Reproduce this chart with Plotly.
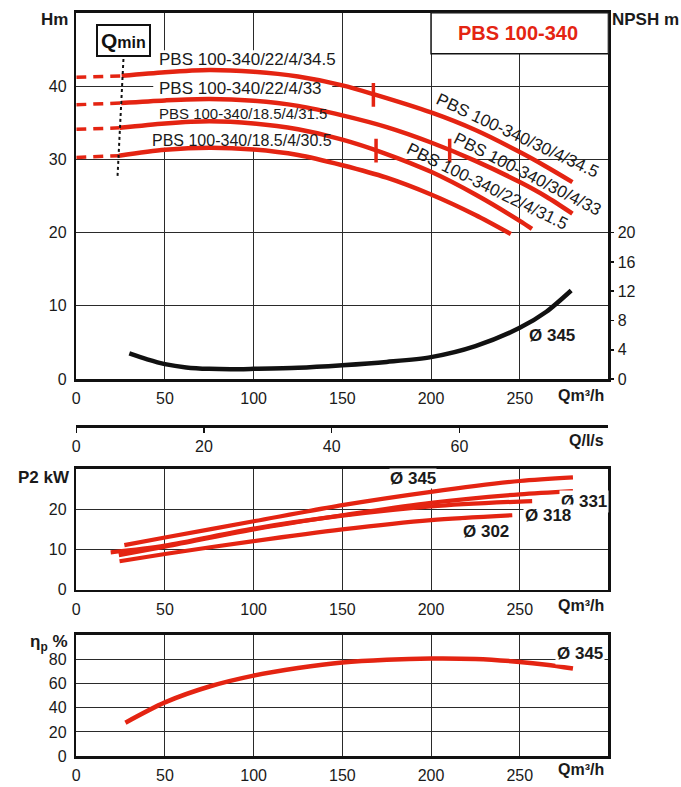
import plotly.graph_objects as go

# ---------------- data ----------------
q_ticks = [0, 50, 100, 150, 200, 250]
h_ticks = [0, 10, 20, 30, 40]
npsh_ticks = [0, 4, 8, 12, 16, 20]
ls_ticks = [0, 20, 40, 60]
p2_ticks = [0, 10, 20]
eta_ticks = [0, 20, 40, 60, 80]

head_names_left = ["PBS 100-340/22/4/34.5", "PBS 100-340/22/4/33",
                   "PBS 100-340/18.5/4/31.5", "PBS 100-340/18.5/4/30.5"]
head_names_right = ["PBS 100-340/30/4/34.5", "PBS 100-340/30/4/33",
                    "PBS 100-340/22/4/31.5"]
title_text = "PBS 100-340"

# head curves: dashed part (below Qmin) and solid part
h1_dash_q = [0, 25.6]
h1_dash_h = [41.2, 41.4]
h1_q = [25.6, 50, 75, 100, 125, 150, 167.5, 200, 225, 250, 265, 279.7]
h1_h = [41.4, 41.9, 42.2, 41.95, 41.3, 40.1, 38.9, 36.4, 34.0, 31.0, 29.0, 26.9]

h2_dash_q = [0, 25.3]
h2_dash_h = [37.45, 37.7]
h2_q = [25.3, 50, 75, 100, 125, 150, 175, 200, 225, 250, 265, 279.7]
h2_h = [37.7, 38.05, 38.25, 38.0, 37.3, 36.0, 34.4, 32.3, 29.8, 26.9, 24.9, 22.6]

h3_dash_q = [0, 24.5]
h3_dash_h = [34.1, 34.3]
h3_q = [24.5, 50, 75, 100, 125, 150, 173, 200, 225, 250, 256.9]
h3_h = [34.3, 34.9, 35.2, 34.9, 34.1, 32.7, 30.9, 28.3, 25.2, 21.6, 20.5]

h4_dash_q = [0, 24.0]
h4_dash_h = [30.25, 30.5]
h4_q = [24.0, 50, 75, 100, 125, 150, 175, 200, 225, 245]
h4_h = [30.5, 31.3, 31.6, 31.35, 30.6, 29.2, 27.5, 25.2, 22.4, 19.8]

# duty-point tick marks on the head curves
tick_q = [167.5, 210.5, 169.0]
tick_h = [38.8, 31.2, 31.2]

# Qmin dotted line
qmin_q = [26.6, 23.2]
qmin_h = [43.7, 27.4]

# NPSH curve (D 345)
npsh_q = [29.9, 40, 50, 62, 75, 87, 100, 125, 150, 175, 200, 225, 250, 265, 279]
npsh_v = [3.5, 2.7, 2.05, 1.6, 1.4, 1.35, 1.4, 1.55, 1.9, 2.35, 3.0, 4.5, 7.0, 9.2, 12.1]

# P2 power curves
p345_q = [27.1, 50, 100, 150, 200, 250, 280]
p345_p = [11.1, 13.0, 17.0, 21.0, 24.3, 27.0, 27.9]
p331_q = [24, 50, 100, 150, 200, 250, 280]
p331_p = [8.6, 10.7, 15.0, 18.5, 21.6, 23.7, 24.5]
p318_q = [19.4, 50, 100, 150, 200, 250, 257]
p318_p = [9.3, 11.0, 15.2, 18.4, 20.7, 21.9, 22.0]
p302_q = [24.4, 50, 100, 150, 200, 245.8]
p302_p = [7.1, 8.9, 12.1, 15.0, 17.3, 18.5]
p_labels = ["Ø 345", "Ø 331", "Ø 318", "Ø 302"]

# efficiency
eta_q = [27.7, 50, 76, 100, 125, 150, 175, 200, 225, 250, 265, 280]
eta_v = [27.7, 44.4, 57.9, 66.5, 72.7, 77.3, 79.6, 80.6, 80.2, 77.8, 75.5, 72.4]

# ---------------- layout helpers ----------------
W, H = 681, 787
RED = "#e42412"
FONT = "Liberation Sans, Arial, sans-serif"
TXT = "#1a1a1a"


def fx(p):
    return p / W


def fy(p):
    return 1 - p / H


XL, XR = 72.7, 608.0
xdom = [fx(XL), fx(XR)]

fig = go.Figure()


def line(x, y, xa, ya, color=RED, width=4.5, dash=None):
    fig.add_trace(go.Scatter(
        x=x, y=y, mode="lines", xaxis=xa, yaxis=ya, hoverinfo="skip",
        line=dict(color=color, width=width, shape="spline", smoothing=0.8,
                  dash=dash),
        showlegend=False))


# head curves
for dq, dh, q, h in [(h1_dash_q, h1_dash_h, h1_q, h1_h),
                     (h2_dash_q, h2_dash_h, h2_q, h2_h),
                     (h3_dash_q, h3_dash_h, h3_q, h3_h),
                     (h4_dash_q, h4_dash_h, h4_q, h4_h)]:
    line(dq, dh, "x", "y", width=3.5, dash="10px,7px")
    line(q, h, "x", "y")

fig.add_trace(go.Scatter(
    x=tick_q, y=tick_h, mode="markers", xaxis="x", yaxis="y", hoverinfo="skip",
    marker=dict(symbol="line-ns", size=17, line=dict(color=RED, width=3.5)),
    showlegend=False))

fig.add_trace(go.Scatter(
    x=qmin_q, y=qmin_h, mode="lines", xaxis="x", yaxis="y", hoverinfo="skip",
    line=dict(color="#111", width=2, dash="dot"), showlegend=False))

# NPSH on right axis
line(npsh_q, npsh_v, "x", "y2", color="#111", width=4.5)

# Q l/s axis (placeholder trace to register the axis)
fig.add_trace(go.Scatter(x=[None], y=[None], xaxis="x2", yaxis="y3",
                         showlegend=False, hoverinfo="skip"))

# P2 curves
for q, p in [(p345_q, p345_p), (p331_q, p331_p), (p318_q, p318_p), (p302_q, p302_p)]:
    line(q, p, "x3", "y4", width=4.2)

# efficiency
line(eta_q, eta_v, "x4", "y5", width=4.5)

# ---------------- axes ----------------
tickfont = dict(family=FONT, size=16, color=TXT)
common_x = dict(domain=xdom, range=[0, 300], tickvals=q_ticks, showgrid=True,
                gridcolor="#2a2a2a", gridwidth=1, showline=True, linecolor="#111",
                linewidth=2.5, mirror=True, ticks="", tickfont=tickfont,
                ticklabelstandoff=3, zeroline=False, fixedrange=True)
common_y = dict(showgrid=True, gridcolor="#2a2a2a", gridwidth=1, showline=True,
                linecolor="#111", linewidth=2.5, mirror=True, ticks="",
                tickfont=tickfont, ticklabelstandoff=4, zeroline=False,
                fixedrange=True)

fig.update_layout(
    width=W, height=H, margin=dict(l=0, r=0, t=0, b=0),
    paper_bgcolor="white", plot_bgcolor="white", showlegend=False,
    font=dict(family=FONT, color=TXT),
    xaxis=dict(common_x, anchor="y"),
    yaxis=dict(common_y, domain=[fy(383.5), fy(13)], range=[0, 50],
               tickvals=h_ticks),
    yaxis2=dict(overlaying="y", side="right", anchor="x", range=[0, 50],
                tickvals=npsh_ticks, showgrid=False, showline=False,
                ticks="outside", ticklen=5, tickwidth=1.5, tickcolor="#111",
                tickfont=tickfont, zeroline=False, fixedrange=True),
    xaxis2=dict(domain=xdom, anchor="y3", range=[0, 300 / 3.6],
                tickvals=ls_ticks, showgrid=False, showline=True,
                linecolor="#111", linewidth=2.5, ticks="outside", ticklen=5,
                tickwidth=1.5, tickcolor="#111", tickfont=tickfont,
                zeroline=False, fixedrange=True),
    yaxis3=dict(domain=[fy(430), fy(426)], anchor="x2", range=[0, 1],
                visible=False, fixedrange=True),
    xaxis3=dict(common_x, anchor="y4"),
    yaxis4=dict(common_y, anchor="x3", domain=[fy(596.7), fy(474.3)],
                range=[0, 30], tickvals=p2_ticks),
    xaxis4=dict(common_x, anchor="y5"),
    yaxis5=dict(common_y, anchor="x4", domain=[fy(765), fy(642.3)],
                range=[0, 100], tickvals=eta_ticks),
)

# ---------------- shapes ----------------
# white mask behind the left-side curve labels (hides grid, keeps curves)
fig.add_shape(type="rect", xref="x", yref="y", x0=43.4, x1=144.3, y0=31.6,
              y1=44.9, fillcolor="white", line=dict(width=0), layer="between")
# title box
fig.add_shape(type="rect", xref="x", yref="y", x0=200, x1=300, y0=44.4, y1=50,
              fillcolor="white", line=dict(color="#111", width=1.5), layer="above")

# ---------------- annotations ----------------
ann = []


def txt(x, y, text, xref="paper", yref="paper", size=16, xanchor="center",
        yanchor="middle", angle=0, bg=None, color=TXT, pad=1):
    d = dict(x=x, y=y, xref=xref, yref=yref, text=text, showarrow=False,
             xanchor=xanchor, yanchor=yanchor, textangle=angle,
             font=dict(family=FONT, size=size, color=color))
    if bg:
        d.update(bgcolor=bg, borderpad=pad)
    ann.append(d)


# axis titles
txt(fx(66), fy(20), "<b>Hm</b>", size=17, xanchor="right")
txt(fx(610), fy(20), "<b>NPSH m</b>", size=17, xanchor="left")
txt(fx(606), fy(400), "<b>Qm³/h</b>", size=16, xanchor="right", bg="white")
txt(fx(606), fy(446), "<b>Q/l/s</b>", size=16, xanchor="right", bg="white")
txt(fx(68), fy(483), "<b>P2 kW</b>", size=17, xanchor="right")
txt(fx(606), fy(612), "<b>Qm³/h</b>", size=16, xanchor="right", bg="white")
txt(fx(66), fy(650), "<b>η<sub>p</sub> %</b>", size=17, xanchor="right")
txt(fx(606), fy(778), "<b>Qm³/h</b>", size=16, xanchor="right", bg="white")

# title
txt(249, 47.2, f"<b>{title_text}</b>", xref="x", yref="y", size=20, color=RED)

# Qmin box
ann.append(dict(x=26.6, y=46.2, xref="x", yref="y", showarrow=False,
                text="<b>Q<span style='font-size:16px'>min</span></b>",
                font=dict(family=FONT, size=21, color="#111"),
                bordercolor="#111", borderwidth=2, borderpad=3, bgcolor="white"))

# left-side curve labels
left_pos = [(45.6, 43.66, 17), (45.6, 39.74, 17), (45.6, 36.23, 15), (41.7, 32.59, 16)]
for (x, y, s), name in zip(left_pos, head_names_left):
    txt(x, y, name, xref="x", yref="y", size=s, xanchor="left")

# right-side rotated labels
right_pos = [(248.5, 33.2, 25), (254.6, 27.9, 27), (231.7, 26.3, 26)]
for (x, y, a), name in zip(right_pos, head_names_right):
    txt(x, y, name, xref="x", yref="y", size=17, angle=a)

# NPSH label
txt(268.3, 6.0, "<b>Ø 345</b>", xref="x", yref="y", size=17)

# P2 labels
p_pos = [(189.7, 27.6, 0), (286.3, 21.8, 1), (266.0, 18.4, 1), (231.0, 14.5, 1)]
for (x, y, pd), lab in zip(p_pos, p_labels):
    txt(x, y, f"<b>{lab}</b>", xref="x3", yref="y4", size=17, bg="white", pad=pd)

# efficiency label
txt(283.7, 84.8, "<b>Ø 345</b>", xref="x4", yref="y5", size=17, bg="white")

fig.update_layout(annotations=ann)
fig.write_html("out.html",
               config={"displayModeBar": False, "staticPlot": True},
               post_script="document.body.style.margin='0';"
                           "document.body.style.overflow='hidden';")
